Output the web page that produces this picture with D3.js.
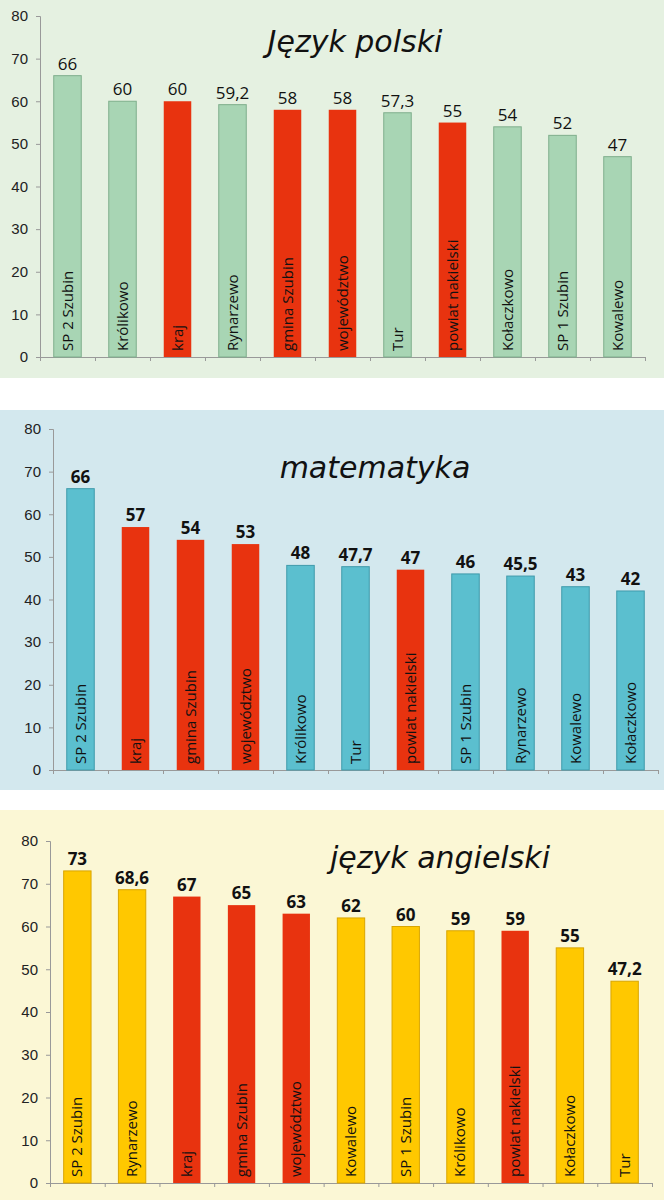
<!DOCTYPE html><html><head><meta charset="utf-8"><script src="https://cdn.jsdelivr.net/npm/d3@7"></script>
<style>body{margin:0;background:#fff}</style></head><body><svg id="c" width="664" height="1200"></svg><script>
const polCats=["SP 2 Szubin","Królikowo","kraj","Rynarzewo","gmina Szubin","województwo","Tur","powiat nakielski","Kołaczkowo","SP 1 Szubin","Kowalewo"];
const polVals=[66,60,60,59.2,58,58,57.3,55,54,52,47];
const matCats=["SP 2 Szubin","kraj","gmina Szubin","województwo","Królikowo","Tur","powiat nakielski","SP 1 Szubin","Rynarzewo","Kowalewo","Kołaczkowo"];
const matVals=[66,57,54,53,48,47.7,47,46,45.5,43,42];
const angCats=["SP 2 Szubin","Rynarzewo","kraj","gmina Szubin","województwo","Kowalewo","SP 1 Szubin","Królikowo","powiat nakielski","Kołaczkowo","Tur"];
const angVals=[73,68.6,67,65,63,62,60,59,59,55,47.2];
const refCats=["kraj","gmina Szubin","województwo","powiat nakielski"];
const yTicks=[0,10,20,30,40,50,60,70,80];
const svg=d3.select("#c");
const panels=[
 {cats:polCats,vals:polVals,title:"Język polski",bg:"#e5f1e1",by0:0,by1:378,ax:40,ax1:645,yTop:16,y0:357,col:"#a8d5b4",st:"#7fae8c",bold:false,tx:355,ty:52},
 {cats:matCats,vals:matVals,title:"matematyka",bg:"#d3e8ee",by0:410,by1:790,ax:53,ax1:658,yTop:429,y0:770,col:"#5bbfcf",st:"#3f9aab",bold:true,tx:375,ty:478},
 {cats:angCats,vals:angVals,title:"język angielski",bg:"#fbf7d5",by0:810,by1:1200,ax:50,ax1:652,yTop:841,y0:1183,col:"#ffc800",st:"#d9a500",bold:true,tx:440,ty:868}];
panels.forEach(p=>{
 svg.append("rect").attr("x",0).attr("y",p.by0).attr("width",664).attr("height",p.by1-p.by0).attr("fill",p.bg);
 const x=d3.scaleBand().domain(p.cats).range([p.ax,p.ax1]).paddingInner(0.5).paddingOuter(0.25);
 const y=d3.scaleLinear().domain([0,80]).range([p.y0,p.yTop]);
 const g=svg.append("g");
 g.append("g").attr("transform",`translate(${p.ax},0)`).call(d3.axisLeft(y).tickValues(yTicks).tickSize(4).tickPadding(8))
  .call(a=>{a.selectAll("text").attr("font-family","Liberation Sans, Arial").attr("font-size",15).attr("fill","#222");a.selectAll("line,path").attr("stroke","#999");});
 const xb=d3.scaleLinear().domain([0,p.cats.length]).range([p.ax,p.ax1]);
 g.append("g").attr("transform",`translate(0,${p.y0})`).call(d3.axisBottom(xb).ticks(p.cats.length).tickFormat("").tickSize(4).tickSizeOuter(0))
  .call(a=>a.selectAll("line,path").attr("stroke","#999"));
 const red=c=>refCats.includes(c);
 p.cats.forEach((c,i)=>{
  const v=p.vals[i], bx=x(c), bw=x.bandwidth();
  g.append("rect").attr("x",bx).attr("y",y(v)).attr("width",bw).attr("height",y(0)-y(v))
   .attr("fill",red(c)?"#e8330f":p.col).attr("stroke",red(c)?"none":p.st).attr("stroke-width",1);
  g.append("text").attr("x",bx+bw/2).attr("y",y(v)-6).attr("text-anchor","middle")
   .attr("font-family","Open Sans, Noto Sans").attr("font-size",17).attr("font-weight",p.bold?"bold":"normal").attr("fill","#111")
   .text(String(v).replace(".",","));
  g.append("text").attr("transform",`translate(${bx+bw/2+5},${y(0)-6}) rotate(-90)`)
   .attr("font-family","Open Sans, Noto Sans").attr("font-size",15).attr("fill","#111").text(c);
 });
 svg.append("text").attr("x",p.tx).attr("y",p.ty).attr("text-anchor","middle").attr("font-family","DejaVu Sans")
  .attr("font-style","italic").attr("font-size",30).attr("fill","#111").text(p.title);
});
</script></body></html>
